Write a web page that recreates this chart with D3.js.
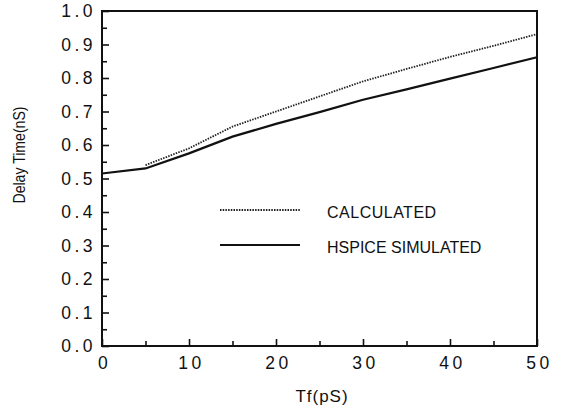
<!DOCTYPE html>
<html><head><meta charset="utf-8">
<script src="https://cdn.jsdelivr.net/npm/d3@7"></script>
<style>body{margin:0;background:#fff}svg{display:block}text{font-family:"Liberation Sans",Arial,sans-serif;fill:#111}
.tk{font-family:"Liberation Sans Narrow","Liberation Sans",sans-serif}</style>
</head><body><svg id="c" width="561" height="410"></svg>
<script>
const hspiceX = [0,5,10,15,20,25,30,35,40,45,50];
const hspiceY = [0.515,0.530,0.575,0.625,0.663,0.698,0.735,0.766,0.798,0.830,0.862];
const calcX = [5,10,15,20,25,30,35,40,45,50];
const calcY = [0.540,0.590,0.655,0.700,0.745,0.790,0.827,0.863,0.896,0.931];
const xTicks = [0,10,20,30,40,50];
const yTicks = [0.0,0.1,0.2,0.3,0.4,0.5,0.6,0.7,0.8,0.9,1.0];
const legendLabels = ["CALCULATED","HSPICE SIMULATED"];

const svg = d3.select("#c");
const x = d3.scaleLinear().domain([0,50]).range([102,537]);
const y = d3.scaleLinear().domain([0,1]).range([346,11]);

svg.append("rect").attr("x",x(0)).attr("y",y(1)).attr("width",x(50)-x(0)).attr("height",y(0)-y(1))
  .attr("fill","none").attr("stroke","#111").attr("stroke-width",2);

const xa = svg.append("g").attr("transform",`translate(0,${y(0)})`)
  .call(d3.axisBottom(x).tickValues(d3.range(0,51,5)).tickSize(-7).tickPadding(11).tickFormat(d=>xTicks.includes(d)?d:""));
const ya = svg.append("g").attr("transform",`translate(${x(0)},0)`)
  .call(d3.axisLeft(y).tickValues(d3.range(0,1.001,0.05)).tickSize(-7).tickPadding(6)
    .tickFormat(d=>{const r=Math.round(d*100)/100; return yTicks.some(t=>Math.abs(t-r)<1e-9)?d3.format(".1f")(r):"";}));
[xa,ya].forEach(g=>{g.select(".domain").remove();g.selectAll("line").attr("stroke","#111").attr("stroke-width",1.6);
  g.selectAll("text").attr("class","tk").style("font-size","17.5px").style("letter-spacing","3.5px").attr("fill","#111");});
xa.selectAll("text").attr("dx","2px");
ya.selectAll(".tick line").filter(d=>Math.round(d*100)%10!==0).attr("x2",5);
xa.selectAll(".tick line").filter(d=>d%10!==0).attr("y2",-5);

const line = d3.line().x(d=>x(d[0])).y(d=>y(d[1]));
svg.append("path").datum(hspiceX.map((v,i)=>[v,hspiceY[i]])).attr("d",line)
  .attr("fill","none").attr("stroke","#111").attr("stroke-width",2.2);
svg.append("path").datum(calcX.map((v,i)=>[v,calcY[i]])).attr("d",line)
  .attr("fill","none").attr("stroke","#222").attr("stroke-width",1.8).attr("stroke-dasharray","1.5,1.2");

svg.append("line").attr("x1",220).attr("x2",300).attr("y1",210).attr("y2",210)
  .attr("stroke","#222").attr("stroke-width",1.8).attr("stroke-dasharray","1.5,1.2");
svg.append("line").attr("x1",220).attr("x2",300).attr("y1",245).attr("y2",245)
  .attr("stroke","#111").attr("stroke-width",2);
svg.append("text").attr("x",327).attr("y",218).text(legendLabels[0]).style("font-size","16px").style("letter-spacing","0.5px");
svg.append("text").attr("x",327).attr("y",253).text(legendLabels[1]).style("font-size","16px");

svg.append("text").attr("x",322).attr("y",402).attr("text-anchor","middle").text("Tf(pS)")
  .style("font-size","17px").style("letter-spacing","1px");
svg.append("text").attr("transform","translate(25,155) rotate(-90)").attr("text-anchor","middle")
  .text("Delay Time(nS)").style("font-size","17px").attr("textLength",97).attr("lengthAdjust","spacingAndGlyphs");
</script></body></html>
